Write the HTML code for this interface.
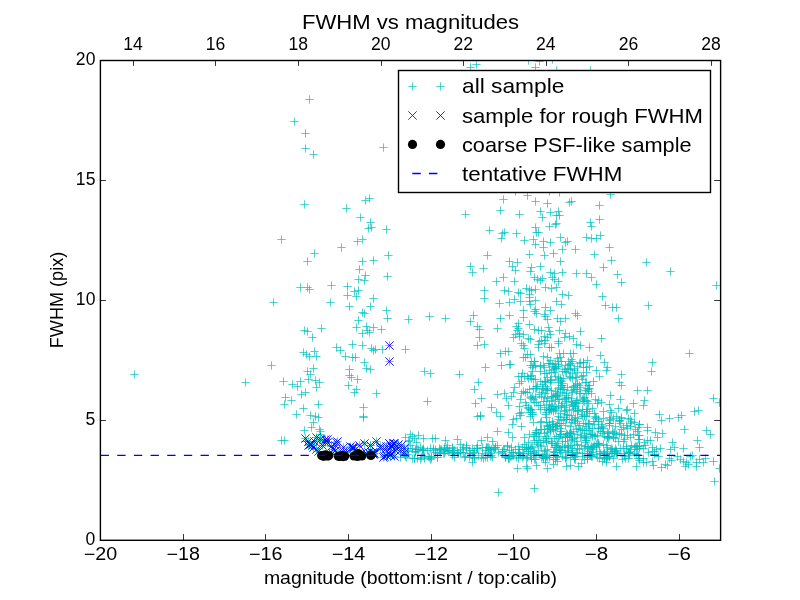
<!DOCTYPE html><html><head><meta charset="utf-8"><style>html,body{margin:0;padding:0;background:#fff;}svg{display:block;will-change:transform}</style></head><body>
<svg width="800" height="600" viewBox="0 0 800 600">
<defs><clipPath id="c"><rect x="100" y="60" width="621" height="481"/></clipPath><path id="p" d="M-4.17 0H4.17M0 -4.17V4.17" stroke="#00bfbf" stroke-width="0.69" fill="none"/><path id="x" d="M-4.17 -4.17L4.17 4.17M-4.17 4.17L4.17 -4.17" stroke="#0000ff" stroke-width="0.85" fill="none"/></defs>
<rect width="800" height="600" fill="#fff"/>
<g clip-path="url(#c)">
<use href="#p" x="309.5" y="99.5"/>
<use href="#p" x="294.5" y="121.5"/>
<use href="#p" x="305.5" y="133.5"/>
<use href="#p" x="305.5" y="148.5"/>
<use href="#p" x="313.5" y="154.5"/>
<use href="#p" x="383.5" y="147.5"/>
<use href="#p" x="134.5" y="374.5"/>
<use href="#p" x="245.5" y="382.5"/>
<use href="#p" x="304.5" y="204.5"/>
<use href="#p" x="346.5" y="208.5"/>
<use href="#p" x="365.5" y="200.5"/>
<use href="#p" x="369.5" y="198.5"/>
<use href="#p" x="360.5" y="217.5"/>
<use href="#p" x="370.5" y="222.5"/>
<use href="#p" x="368.5" y="228.5"/>
<use href="#p" x="371.5" y="227.5"/>
<use href="#p" x="386.5" y="229.5"/>
<use href="#p" x="281.5" y="239.5"/>
<use href="#p" x="357.5" y="241.5"/>
<use href="#p" x="362.5" y="239.5"/>
<use href="#p" x="341.5" y="247.5"/>
<use href="#p" x="314.5" y="253.5"/>
<use href="#p" x="307.5" y="261.5"/>
<use href="#p" x="362.5" y="261.5"/>
<use href="#p" x="373.5" y="260.5"/>
<use href="#p" x="388.5" y="255.5"/>
<use href="#p" x="359.5" y="269.5"/>
<use href="#p" x="365.5" y="275.5"/>
<use href="#p" x="358.5" y="279.5"/>
<use href="#p" x="364.5" y="280.5"/>
<use href="#p" x="387.5" y="276.5"/>
<use href="#p" x="300.5" y="287.5"/>
<use href="#p" x="307.5" y="287.5"/>
<use href="#p" x="309.5" y="289.5"/>
<use href="#p" x="331.5" y="285.5"/>
<use href="#p" x="347.5" y="286.5"/>
<use href="#p" x="354.5" y="291.5"/>
<use href="#p" x="358.5" y="290.5"/>
<use href="#p" x="347.5" y="295.5"/>
<use href="#p" x="356.5" y="296.5"/>
<use href="#p" x="373.5" y="298.5"/>
<use href="#p" x="273.5" y="302.5"/>
<use href="#p" x="330.5" y="302.5"/>
<use href="#p" x="349.5" y="306.5"/>
<use href="#p" x="370.5" y="306.5"/>
<use href="#p" x="386.5" y="310.5"/>
<use href="#p" x="362.5" y="312.5"/>
<use href="#p" x="364.5" y="313.5"/>
<use href="#p" x="387.5" y="318.5"/>
<use href="#p" x="408.5" y="319.5"/>
<use href="#p" x="358.5" y="320.5"/>
<use href="#p" x="356.5" y="327.5"/>
<use href="#p" x="366.5" y="326.5"/>
<use href="#p" x="373.5" y="327.5"/>
<use href="#p" x="381.5" y="329.5"/>
<use href="#p" x="367.5" y="330.5"/>
<use href="#p" x="369.5" y="332.5"/>
<use href="#p" x="362.5" y="333.5"/>
<use href="#p" x="304.5" y="330.5"/>
<use href="#p" x="307.5" y="331.5"/>
<use href="#p" x="321.5" y="328.5"/>
<use href="#p" x="312.5" y="337.5"/>
<use href="#p" x="336.5" y="347.5"/>
<use href="#p" x="340.5" y="350.5"/>
<use href="#p" x="352.5" y="344.5"/>
<use href="#p" x="362.5" y="345.5"/>
<use href="#p" x="371.5" y="348.5"/>
<use href="#p" x="373.5" y="350.5"/>
<use href="#p" x="375.5" y="349.5"/>
<use href="#p" x="382.5" y="349.5"/>
<use href="#p" x="405.5" y="349.5"/>
<use href="#p" x="303.5" y="352.5"/>
<use href="#p" x="306.5" y="354.5"/>
<use href="#p" x="314.5" y="351.5"/>
<use href="#p" x="309.5" y="356.5"/>
<use href="#p" x="316.5" y="356.5"/>
<use href="#p" x="345.5" y="356.5"/>
<use href="#p" x="352.5" y="357.5"/>
<use href="#p" x="355.5" y="357.5"/>
<use href="#p" x="364.5" y="362.5"/>
<use href="#p" x="366.5" y="368.5"/>
<use href="#p" x="370.5" y="369.5"/>
<use href="#p" x="271.5" y="365.5"/>
<use href="#p" x="313.5" y="368.5"/>
<use href="#p" x="307.5" y="371.5"/>
<use href="#p" x="310.5" y="374.5"/>
<use href="#p" x="349.5" y="369.5"/>
<use href="#p" x="349.5" y="375.5"/>
<use href="#p" x="351.5" y="377.5"/>
<use href="#p" x="357.5" y="379.5"/>
<use href="#p" x="283.5" y="381.5"/>
<use href="#p" x="292.5" y="384.5"/>
<use href="#p" x="300.5" y="381.5"/>
<use href="#p" x="297.5" y="386.5"/>
<use href="#p" x="308.5" y="379.5"/>
<use href="#p" x="315.5" y="380.5"/>
<use href="#p" x="319.5" y="382.5"/>
<use href="#p" x="316.5" y="387.5"/>
<use href="#p" x="348.5" y="385.5"/>
<use href="#p" x="356.5" y="389.5"/>
<use href="#p" x="354.5" y="392.5"/>
<use href="#p" x="305.5" y="392.5"/>
<use href="#p" x="301.5" y="394.5"/>
<use href="#p" x="376.5" y="393.5"/>
<use href="#p" x="285.5" y="397.5"/>
<use href="#p" x="291.5" y="400.5"/>
<use href="#p" x="284.5" y="404.5"/>
<use href="#p" x="318.5" y="404.5"/>
<use href="#p" x="303.5" y="408.5"/>
<use href="#p" x="363.5" y="407.5"/>
<use href="#p" x="296.5" y="414.5"/>
<use href="#p" x="310.5" y="415.5"/>
<use href="#p" x="315.5" y="416.5"/>
<use href="#p" x="318.5" y="417.5"/>
<use href="#p" x="363.5" y="416.5"/>
<use href="#p" x="470.5" y="67.5"/>
<use href="#p" x="476.5" y="64.5"/>
<use href="#p" x="535.5" y="67.5"/>
<use href="#p" x="539.5" y="61.5"/>
<use href="#p" x="528.5" y="60.5"/>
<use href="#p" x="552.5" y="59.5"/>
<use href="#p" x="556.5" y="70.5"/>
<use href="#p" x="590.5" y="70.5"/>
<use href="#p" x="503.5" y="199.5"/>
<use href="#p" x="527.5" y="195.5"/>
<use href="#p" x="535.5" y="201.5"/>
<use href="#p" x="547.5" y="203.5"/>
<use href="#p" x="569.5" y="202.5"/>
<use href="#p" x="571.5" y="201.5"/>
<use href="#p" x="465.5" y="214.5"/>
<use href="#p" x="500.5" y="210.5"/>
<use href="#p" x="519.5" y="214.5"/>
<use href="#p" x="540.5" y="211.5"/>
<use href="#p" x="550.5" y="212.5"/>
<use href="#p" x="558.5" y="211.5"/>
<use href="#p" x="556.5" y="215.5"/>
<use href="#p" x="559.5" y="215.5"/>
<use href="#p" x="542.5" y="217.5"/>
<use href="#p" x="489.5" y="230.5"/>
<use href="#p" x="504.5" y="232.5"/>
<use href="#p" x="502.5" y="233.5"/>
<use href="#p" x="516.5" y="233.5"/>
<use href="#p" x="535.5" y="227.5"/>
<use href="#p" x="536.5" y="232.5"/>
<use href="#p" x="538.5" y="232.5"/>
<use href="#p" x="549.5" y="226.5"/>
<use href="#p" x="555.5" y="224.5"/>
<use href="#p" x="556.5" y="223.5"/>
<use href="#p" x="501.5" y="238.5"/>
<use href="#p" x="524.5" y="240.5"/>
<use href="#p" x="533.5" y="239.5"/>
<use href="#p" x="535.5" y="244.5"/>
<use href="#p" x="543.5" y="241.5"/>
<use href="#p" x="550.5" y="242.5"/>
<use href="#p" x="560.5" y="237.5"/>
<use href="#p" x="565.5" y="242.5"/>
<use href="#p" x="567.5" y="241.5"/>
<use href="#p" x="543.5" y="247.5"/>
<use href="#p" x="562.5" y="249.5"/>
<use href="#p" x="575.5" y="249.5"/>
<use href="#p" x="487.5" y="255.5"/>
<use href="#p" x="529.5" y="254.5"/>
<use href="#p" x="544.5" y="255.5"/>
<use href="#p" x="553.5" y="253.5"/>
<use href="#p" x="560.5" y="261.5"/>
<use href="#p" x="470.5" y="266.5"/>
<use href="#p" x="472.5" y="272.5"/>
<use href="#p" x="483.5" y="268.5"/>
<use href="#p" x="509.5" y="261.5"/>
<use href="#p" x="512.5" y="266.5"/>
<use href="#p" x="517.5" y="262.5"/>
<use href="#p" x="515.5" y="270.5"/>
<use href="#p" x="531.5" y="267.5"/>
<use href="#p" x="530.5" y="271.5"/>
<use href="#p" x="540.5" y="266.5"/>
<use href="#p" x="550.5" y="272.5"/>
<use href="#p" x="554.5" y="273.5"/>
<use href="#p" x="562.5" y="272.5"/>
<use href="#p" x="576.5" y="273.5"/>
<use href="#p" x="496.5" y="281.5"/>
<use href="#p" x="503.5" y="277.5"/>
<use href="#p" x="514.5" y="281.5"/>
<use href="#p" x="534.5" y="277.5"/>
<use href="#p" x="537.5" y="279.5"/>
<use href="#p" x="540.5" y="280.5"/>
<use href="#p" x="542.5" y="278.5"/>
<use href="#p" x="552.5" y="277.5"/>
<use href="#p" x="554.5" y="279.5"/>
<use href="#p" x="558.5" y="281.5"/>
<use href="#p" x="484.5" y="290.5"/>
<use href="#p" x="504.5" y="290.5"/>
<use href="#p" x="508.5" y="291.5"/>
<use href="#p" x="518.5" y="292.5"/>
<use href="#p" x="520.5" y="293.5"/>
<use href="#p" x="526.5" y="288.5"/>
<use href="#p" x="529.5" y="289.5"/>
<use href="#p" x="531.5" y="290.5"/>
<use href="#p" x="535.5" y="289.5"/>
<use href="#p" x="545.5" y="287.5"/>
<use href="#p" x="551.5" y="288.5"/>
<use href="#p" x="556.5" y="287.5"/>
<use href="#p" x="529.5" y="294.5"/>
<use href="#p" x="562.5" y="294.5"/>
<use href="#p" x="568.5" y="295.5"/>
<use href="#p" x="484.5" y="298.5"/>
<use href="#p" x="514.5" y="299.5"/>
<use href="#p" x="515.5" y="191.5"/>
<use href="#p" x="549.5" y="191.5"/>
<use href="#p" x="559.5" y="192.5"/>
<use href="#p" x="610.5" y="194.5"/>
<use href="#p" x="599.5" y="205.5"/>
<use href="#p" x="599.5" y="219.5"/>
<use href="#p" x="590.5" y="222.5"/>
<use href="#p" x="591.5" y="226.5"/>
<use href="#p" x="586.5" y="237.5"/>
<use href="#p" x="591.5" y="238.5"/>
<use href="#p" x="596.5" y="238.5"/>
<use href="#p" x="600.5" y="235.5"/>
<use href="#p" x="609.5" y="247.5"/>
<use href="#p" x="594.5" y="254.5"/>
<use href="#p" x="611.5" y="260.5"/>
<use href="#p" x="603.5" y="267.5"/>
<use href="#p" x="646.5" y="262.5"/>
<use href="#p" x="670.5" y="271.5"/>
<use href="#p" x="586.5" y="273.5"/>
<use href="#p" x="591.5" y="277.5"/>
<use href="#p" x="617.5" y="274.5"/>
<use href="#p" x="621.5" y="282.5"/>
<use href="#p" x="596.5" y="284.5"/>
<use href="#p" x="602.5" y="296.5"/>
<use href="#p" x="716.5" y="285.5"/>
<use href="#p" x="429.5" y="316.5"/>
<use href="#p" x="445.5" y="318.5"/>
<use href="#p" x="473.5" y="315.5"/>
<use href="#p" x="470.5" y="321.5"/>
<use href="#p" x="477.5" y="326.5"/>
<use href="#p" x="479.5" y="329.5"/>
<use href="#p" x="479.5" y="337.5"/>
<use href="#p" x="477.5" y="345.5"/>
<use href="#p" x="484.5" y="344.5"/>
<use href="#p" x="497.5" y="328.5"/>
<use href="#p" x="500.5" y="318.5"/>
<use href="#p" x="509.5" y="315.5"/>
<use href="#p" x="499.5" y="303.5"/>
<use href="#p" x="509.5" y="302.5"/>
<use href="#p" x="500.5" y="353.5"/>
<use href="#p" x="505.5" y="351.5"/>
<use href="#p" x="485.5" y="367.5"/>
<use href="#p" x="501.5" y="365.5"/>
<use href="#p" x="509.5" y="364.5"/>
<use href="#p" x="424.5" y="371.5"/>
<use href="#p" x="430.5" y="373.5"/>
<use href="#p" x="459.5" y="374.5"/>
<use href="#p" x="478.5" y="382.5"/>
<use href="#p" x="474.5" y="389.5"/>
<use href="#p" x="481.5" y="398.5"/>
<use href="#p" x="475.5" y="403.5"/>
<use href="#p" x="497.5" y="394.5"/>
<use href="#p" x="504.5" y="393.5"/>
<use href="#p" x="506.5" y="398.5"/>
<use href="#p" x="508.5" y="405.5"/>
<use href="#p" x="491.5" y="407.5"/>
<use href="#p" x="496.5" y="412.5"/>
<use href="#p" x="500.5" y="416.5"/>
<use href="#p" x="477.5" y="416.5"/>
<use href="#p" x="480.5" y="415.5"/>
<use href="#p" x="427.5" y="401.5"/>
<use href="#p" x="520.5" y="301.5"/>
<use href="#p" x="529.5" y="301.5"/>
<use href="#p" x="535.5" y="300.5"/>
<use href="#p" x="530.5" y="304.5"/>
<use href="#p" x="556.5" y="301.5"/>
<use href="#p" x="561.5" y="304.5"/>
<use href="#p" x="523.5" y="310.5"/>
<use href="#p" x="534.5" y="311.5"/>
<use href="#p" x="536.5" y="313.5"/>
<use href="#p" x="545.5" y="307.5"/>
<use href="#p" x="550.5" y="310.5"/>
<use href="#p" x="523.5" y="317.5"/>
<use href="#p" x="545.5" y="316.5"/>
<use href="#p" x="547.5" y="319.5"/>
<use href="#p" x="557.5" y="318.5"/>
<use href="#p" x="560.5" y="321.5"/>
<use href="#p" x="565.5" y="318.5"/>
<use href="#p" x="575.5" y="313.5"/>
<use href="#p" x="577.5" y="315.5"/>
<use href="#p" x="518.5" y="323.5"/>
<use href="#p" x="529.5" y="324.5"/>
<use href="#p" x="580.5" y="331.5"/>
<use href="#p" x="569.5" y="336.5"/>
<use href="#p" x="573.5" y="338.5"/>
<use href="#p" x="576.5" y="344.5"/>
<use href="#p" x="580.5" y="345.5"/>
<use href="#p" x="589.5" y="347.5"/>
<use href="#p" x="570.5" y="353.5"/>
<use href="#p" x="573.5" y="353.5"/>
<use href="#p" x="605.5" y="305.5"/>
<use href="#p" x="612.5" y="307.5"/>
<use href="#p" x="616.5" y="307.5"/>
<use href="#p" x="618.5" y="318.5"/>
<use href="#p" x="648.5" y="305.5"/>
<use href="#p" x="601.5" y="338.5"/>
<use href="#p" x="689.5" y="353.5"/>
<use href="#p" x="600.5" y="355.5"/>
<use href="#p" x="652.5" y="362.5"/>
<use href="#p" x="651.5" y="371.5"/>
<use href="#p" x="621.5" y="374.5"/>
<use href="#p" x="619.5" y="382.5"/>
<use href="#p" x="621.5" y="385.5"/>
<use href="#p" x="637.5" y="390.5"/>
<use href="#p" x="647.5" y="390.5"/>
<use href="#p" x="620.5" y="399.5"/>
<use href="#p" x="633.5" y="403.5"/>
<use href="#p" x="644.5" y="400.5"/>
<use href="#p" x="643.5" y="405.5"/>
<use href="#p" x="627.5" y="409.5"/>
<use href="#p" x="634.5" y="413.5"/>
<use href="#p" x="659.5" y="414.5"/>
<use href="#p" x="669.5" y="418.5"/>
<use href="#p" x="678.5" y="417.5"/>
<use href="#p" x="681.5" y="415.5"/>
<use href="#p" x="694.5" y="411.5"/>
<use href="#p" x="698.5" y="410.5"/>
<use href="#p" x="713.5" y="398.5"/>
<use href="#p" x="719.5" y="402.5"/>
<use href="#p" x="604.5" y="362.5"/>
<use href="#p" x="607.5" y="367.5"/>
<use href="#p" x="596.5" y="370.5"/>
<use href="#p" x="599.5" y="376.5"/>
<use href="#p" x="647.5" y="427.5"/>
<use href="#p" x="647.5" y="430.5"/>
<use href="#p" x="655.5" y="432.5"/>
<use href="#p" x="662.5" y="433.5"/>
<use href="#p" x="657.5" y="437.5"/>
<use href="#p" x="684.5" y="429.5"/>
<use href="#p" x="706.5" y="430.5"/>
<use href="#p" x="710.5" y="434.5"/>
<use href="#p" x="697.5" y="440.5"/>
<use href="#p" x="699.5" y="447.5"/>
<use href="#p" x="672.5" y="442.5"/>
<use href="#p" x="674.5" y="447.5"/>
<use href="#p" x="683.5" y="448.5"/>
<use href="#p" x="670.5" y="449.5"/>
<use href="#p" x="647.5" y="440.5"/>
<use href="#p" x="650.5" y="440.5"/>
<use href="#p" x="644.5" y="442.5"/>
<use href="#p" x="645.5" y="445.5"/>
<use href="#p" x="643.5" y="448.5"/>
<use href="#p" x="652.5" y="447.5"/>
<use href="#p" x="656.5" y="449.5"/>
<use href="#p" x="660.5" y="448.5"/>
<use href="#p" x="652.5" y="451.5"/>
<use href="#p" x="648.5" y="452.5"/>
<use href="#p" x="654.5" y="451.5"/>
<use href="#p" x="654.5" y="454.5"/>
<use href="#p" x="658.5" y="456.5"/>
<use href="#p" x="643.5" y="458.5"/>
<use href="#p" x="643.5" y="462.5"/>
<use href="#p" x="646.5" y="462.5"/>
<use href="#p" x="653.5" y="465.5"/>
<use href="#p" x="652.5" y="461.5"/>
<use href="#p" x="661.5" y="467.5"/>
<use href="#p" x="665.5" y="464.5"/>
<use href="#p" x="667.5" y="465.5"/>
<use href="#p" x="669.5" y="458.5"/>
<use href="#p" x="671.5" y="460.5"/>
<use href="#p" x="677.5" y="456.5"/>
<use href="#p" x="680.5" y="459.5"/>
<use href="#p" x="683.5" y="461.5"/>
<use href="#p" x="686.5" y="462.5"/>
<use href="#p" x="688.5" y="464.5"/>
<use href="#p" x="685.5" y="466.5"/>
<use href="#p" x="690.5" y="456.5"/>
<use href="#p" x="692.5" y="455.5"/>
<use href="#p" x="696.5" y="462.5"/>
<use href="#p" x="696.5" y="466.5"/>
<use href="#p" x="699.5" y="459.5"/>
<use href="#p" x="703.5" y="462.5"/>
<use href="#p" x="705.5" y="458.5"/>
<use href="#p" x="713.5" y="461.5"/>
<use href="#p" x="719.5" y="468.5"/>
<use href="#p" x="714.5" y="481.5"/>
<use href="#p" x="498.5" y="492.5"/>
<use href="#p" x="534.5" y="488.5"/>
<use href="#p" x="593.5" y="381.5"/>
<use href="#p" x="591.5" y="393.5"/>
<use href="#p" x="595.5" y="399.5"/>
<use href="#p" x="598.5" y="400.5"/>
<use href="#p" x="597.5" y="403.5"/>
<use href="#p" x="601.5" y="402.5"/>
<use href="#p" x="609.5" y="404.5"/>
<use href="#p" x="618.5" y="408.5"/>
<use href="#p" x="626.5" y="410.5"/>
<use href="#p" x="592.5" y="408.5"/>
<use href="#p" x="594.5" y="413.5"/>
<use href="#p" x="603.5" y="411.5"/>
<use href="#p" x="610.5" y="410.5"/>
<use href="#p" x="611.5" y="412.5"/>
<use href="#p" x="610.5" y="395.5"/>
<use href="#p" x="606.5" y="370.5"/>
<use href="#p" x="304.5" y="430.5"/>
<use href="#p" x="313.5" y="422.5"/>
<use href="#p" x="311.5" y="427.5"/>
<use href="#p" x="319.5" y="429.5"/>
<use href="#p" x="320.5" y="434.5"/>
<use href="#p" x="319.5" y="440.5"/>
<use href="#p" x="305.5" y="441.5"/>
<use href="#p" x="281.5" y="440.5"/>
<use href="#p" x="284.5" y="440.5"/>
<use href="#p" x="363.5" y="417.5"/>
<use href="#p" x="516.5" y="326.5"/>
<use href="#p" x="518.5" y="328.5"/>
<use href="#p" x="517.5" y="330.5"/>
<use href="#p" x="513.5" y="337.5"/>
<use href="#p" x="515.5" y="334.5"/>
<use href="#p" x="519.5" y="333.5"/>
<use href="#p" x="519.5" y="336.5"/>
<use href="#p" x="523.5" y="334.5"/>
<use href="#p" x="528.5" y="338.5"/>
<use href="#p" x="530.5" y="339.5"/>
<use href="#p" x="521.5" y="343.5"/>
<use href="#p" x="524.5" y="348.5"/>
<use href="#p" x="523.5" y="345.5"/>
<use href="#p" x="534.5" y="329.5"/>
<use href="#p" x="538.5" y="330.5"/>
<use href="#p" x="541.5" y="330.5"/>
<use href="#p" x="548.5" y="327.5"/>
<use href="#p" x="549.5" y="331.5"/>
<use href="#p" x="550.5" y="334.5"/>
<use href="#p" x="544.5" y="336.5"/>
<use href="#p" x="547.5" y="337.5"/>
<use href="#p" x="539.5" y="341.5"/>
<use href="#p" x="541.5" y="340.5"/>
<use href="#p" x="545.5" y="340.5"/>
<use href="#p" x="538.5" y="344.5"/>
<use href="#p" x="544.5" y="343.5"/>
<use href="#p" x="549.5" y="347.5"/>
<use href="#p" x="551.5" y="347.5"/>
<use href="#p" x="538.5" y="347.5"/>
<use href="#p" x="559.5" y="330.5"/>
<use href="#p" x="565.5" y="333.5"/>
<use href="#p" x="564.5" y="337.5"/>
<use href="#p" x="558.5" y="341.5"/>
<use href="#p" x="558.5" y="343.5"/>
<use href="#p" x="527.5" y="354.5"/>
<use href="#p" x="530.5" y="354.5"/>
<use href="#p" x="559.5" y="353.5"/>
<use href="#p" x="563.5" y="353.5"/>
<use href="#p" x="508.5" y="351.5"/>
<use href="#p" x="535.5" y="309.5"/>
<use href="#p" x="544.5" y="314.5"/>
<use href="#p" x="529.5" y="297.5"/>
<use href="#p" x="320.5" y="431.5"/>
<use href="#p" x="320.5" y="437.5"/>
<use href="#p" x="661.5" y="420.5"/>
<use href="#p" x="510.5" y="364.5"/>
<use href="#p" x="523.5" y="357.5"/>
<use href="#p" x="525.5" y="357.5"/>
<use href="#p" x="534.5" y="361.5"/>
<use href="#p" x="531.5" y="361.5"/>
<use href="#p" x="533.5" y="365.5"/>
<use href="#p" x="530.5" y="365.5"/>
<use href="#p" x="534.5" y="361.5"/>
<use href="#p" x="547.5" y="357.5"/>
<use href="#p" x="543.5" y="356.5"/>
<use href="#p" x="543.5" y="365.5"/>
<use href="#p" x="549.5" y="363.5"/>
<use href="#p" x="540.5" y="365.5"/>
<use href="#p" x="548.5" y="363.5"/>
<use href="#p" x="550.5" y="360.5"/>
<use href="#p" x="558.5" y="361.5"/>
<use href="#p" x="557.5" y="358.5"/>
<use href="#p" x="555.5" y="363.5"/>
<use href="#p" x="558.5" y="364.5"/>
<use href="#p" x="552.5" y="364.5"/>
<use href="#p" x="568.5" y="361.5"/>
<use href="#p" x="561.5" y="361.5"/>
<use href="#p" x="565.5" y="365.5"/>
<use href="#p" x="560.5" y="357.5"/>
<use href="#p" x="569.5" y="364.5"/>
<use href="#p" x="572.5" y="361.5"/>
<use href="#p" x="571.5" y="359.5"/>
<use href="#p" x="570.5" y="363.5"/>
<use href="#p" x="570.5" y="365.5"/>
<use href="#p" x="579.5" y="363.5"/>
<use href="#p" x="583.5" y="362.5"/>
<use href="#p" x="587.5" y="360.5"/>
<use href="#p" x="580.5" y="362.5"/>
<use href="#p" x="583.5" y="362.5"/>
<use href="#p" x="522.5" y="373.5"/>
<use href="#p" x="535.5" y="366.5"/>
<use href="#p" x="531.5" y="375.5"/>
<use href="#p" x="532.5" y="367.5"/>
<use href="#p" x="532.5" y="371.5"/>
<use href="#p" x="540.5" y="366.5"/>
<use href="#p" x="544.5" y="367.5"/>
<use href="#p" x="546.5" y="373.5"/>
<use href="#p" x="540.5" y="371.5"/>
<use href="#p" x="544.5" y="373.5"/>
<use href="#p" x="549.5" y="370.5"/>
<use href="#p" x="558.5" y="366.5"/>
<use href="#p" x="553.5" y="369.5"/>
<use href="#p" x="551.5" y="372.5"/>
<use href="#p" x="555.5" y="368.5"/>
<use href="#p" x="554.5" y="372.5"/>
<use href="#p" x="553.5" y="366.5"/>
<use href="#p" x="554.5" y="367.5"/>
<use href="#p" x="556.5" y="368.5"/>
<use href="#p" x="568.5" y="369.5"/>
<use href="#p" x="562.5" y="371.5"/>
<use href="#p" x="566.5" y="372.5"/>
<use href="#p" x="567.5" y="368.5"/>
<use href="#p" x="564.5" y="369.5"/>
<use href="#p" x="565.5" y="371.5"/>
<use href="#p" x="570.5" y="369.5"/>
<use href="#p" x="577.5" y="366.5"/>
<use href="#p" x="577.5" y="372.5"/>
<use href="#p" x="574.5" y="370.5"/>
<use href="#p" x="572.5" y="373.5"/>
<use href="#p" x="574.5" y="368.5"/>
<use href="#p" x="583.5" y="375.5"/>
<use href="#p" x="586.5" y="372.5"/>
<use href="#p" x="589.5" y="366.5"/>
<use href="#p" x="586.5" y="367.5"/>
<use href="#p" x="583.5" y="367.5"/>
<use href="#p" x="519.5" y="383.5"/>
<use href="#p" x="518.5" y="376.5"/>
<use href="#p" x="527.5" y="376.5"/>
<use href="#p" x="521.5" y="376.5"/>
<use href="#p" x="528.5" y="378.5"/>
<use href="#p" x="524.5" y="376.5"/>
<use href="#p" x="521.5" y="381.5"/>
<use href="#p" x="533.5" y="379.5"/>
<use href="#p" x="530.5" y="376.5"/>
<use href="#p" x="531.5" y="378.5"/>
<use href="#p" x="535.5" y="379.5"/>
<use href="#p" x="542.5" y="384.5"/>
<use href="#p" x="540.5" y="381.5"/>
<use href="#p" x="545.5" y="382.5"/>
<use href="#p" x="544.5" y="381.5"/>
<use href="#p" x="547.5" y="377.5"/>
<use href="#p" x="545.5" y="381.5"/>
<use href="#p" x="551.5" y="380.5"/>
<use href="#p" x="550.5" y="382.5"/>
<use href="#p" x="558.5" y="379.5"/>
<use href="#p" x="558.5" y="382.5"/>
<use href="#p" x="550.5" y="380.5"/>
<use href="#p" x="550.5" y="379.5"/>
<use href="#p" x="558.5" y="377.5"/>
<use href="#p" x="555.5" y="376.5"/>
<use href="#p" x="569.5" y="376.5"/>
<use href="#p" x="561.5" y="385.5"/>
<use href="#p" x="563.5" y="378.5"/>
<use href="#p" x="560.5" y="380.5"/>
<use href="#p" x="560.5" y="378.5"/>
<use href="#p" x="562.5" y="383.5"/>
<use href="#p" x="561.5" y="381.5"/>
<use href="#p" x="562.5" y="385.5"/>
<use href="#p" x="579.5" y="385.5"/>
<use href="#p" x="575.5" y="385.5"/>
<use href="#p" x="576.5" y="377.5"/>
<use href="#p" x="577.5" y="384.5"/>
<use href="#p" x="570.5" y="377.5"/>
<use href="#p" x="577.5" y="383.5"/>
<use href="#p" x="575.5" y="377.5"/>
<use href="#p" x="572.5" y="378.5"/>
<use href="#p" x="582.5" y="379.5"/>
<use href="#p" x="586.5" y="382.5"/>
<use href="#p" x="585.5" y="382.5"/>
<use href="#p" x="588.5" y="385.5"/>
<use href="#p" x="581.5" y="376.5"/>
<use href="#p" x="589.5" y="385.5"/>
<use href="#p" x="513.5" y="392.5"/>
<use href="#p" x="514.5" y="387.5"/>
<use href="#p" x="523.5" y="391.5"/>
<use href="#p" x="521.5" y="393.5"/>
<use href="#p" x="529.5" y="389.5"/>
<use href="#p" x="525.5" y="392.5"/>
<use href="#p" x="527.5" y="392.5"/>
<use href="#p" x="537.5" y="386.5"/>
<use href="#p" x="539.5" y="394.5"/>
<use href="#p" x="536.5" y="388.5"/>
<use href="#p" x="536.5" y="386.5"/>
<use href="#p" x="533.5" y="388.5"/>
<use href="#p" x="535.5" y="388.5"/>
<use href="#p" x="547.5" y="388.5"/>
<use href="#p" x="545.5" y="386.5"/>
<use href="#p" x="545.5" y="393.5"/>
<use href="#p" x="547.5" y="389.5"/>
<use href="#p" x="541.5" y="392.5"/>
<use href="#p" x="543.5" y="388.5"/>
<use href="#p" x="542.5" y="389.5"/>
<use href="#p" x="546.5" y="390.5"/>
<use href="#p" x="557.5" y="394.5"/>
<use href="#p" x="555.5" y="395.5"/>
<use href="#p" x="555.5" y="391.5"/>
<use href="#p" x="556.5" y="395.5"/>
<use href="#p" x="557.5" y="395.5"/>
<use href="#p" x="551.5" y="390.5"/>
<use href="#p" x="557.5" y="393.5"/>
<use href="#p" x="558.5" y="388.5"/>
<use href="#p" x="564.5" y="389.5"/>
<use href="#p" x="560.5" y="389.5"/>
<use href="#p" x="566.5" y="393.5"/>
<use href="#p" x="562.5" y="392.5"/>
<use href="#p" x="567.5" y="387.5"/>
<use href="#p" x="560.5" y="387.5"/>
<use href="#p" x="566.5" y="395.5"/>
<use href="#p" x="563.5" y="389.5"/>
<use href="#p" x="573.5" y="386.5"/>
<use href="#p" x="572.5" y="392.5"/>
<use href="#p" x="574.5" y="389.5"/>
<use href="#p" x="573.5" y="387.5"/>
<use href="#p" x="577.5" y="389.5"/>
<use href="#p" x="576.5" y="391.5"/>
<use href="#p" x="579.5" y="393.5"/>
<use href="#p" x="571.5" y="390.5"/>
<use href="#p" x="587.5" y="388.5"/>
<use href="#p" x="589.5" y="388.5"/>
<use href="#p" x="585.5" y="390.5"/>
<use href="#p" x="588.5" y="391.5"/>
<use href="#p" x="588.5" y="389.5"/>
<use href="#p" x="580.5" y="387.5"/>
<use href="#p" x="580.5" y="393.5"/>
<use href="#p" x="586.5" y="393.5"/>
<use href="#p" x="511.5" y="396.5"/>
<use href="#p" x="520.5" y="399.5"/>
<use href="#p" x="525.5" y="402.5"/>
<use href="#p" x="526.5" y="405.5"/>
<use href="#p" x="533.5" y="399.5"/>
<use href="#p" x="530.5" y="397.5"/>
<use href="#p" x="534.5" y="402.5"/>
<use href="#p" x="532.5" y="396.5"/>
<use href="#p" x="536.5" y="402.5"/>
<use href="#p" x="535.5" y="397.5"/>
<use href="#p" x="531.5" y="398.5"/>
<use href="#p" x="538.5" y="405.5"/>
<use href="#p" x="549.5" y="405.5"/>
<use href="#p" x="547.5" y="398.5"/>
<use href="#p" x="549.5" y="404.5"/>
<use href="#p" x="541.5" y="396.5"/>
<use href="#p" x="543.5" y="401.5"/>
<use href="#p" x="540.5" y="405.5"/>
<use href="#p" x="546.5" y="401.5"/>
<use href="#p" x="544.5" y="397.5"/>
<use href="#p" x="557.5" y="396.5"/>
<use href="#p" x="558.5" y="399.5"/>
<use href="#p" x="559.5" y="399.5"/>
<use href="#p" x="552.5" y="397.5"/>
<use href="#p" x="553.5" y="396.5"/>
<use href="#p" x="551.5" y="400.5"/>
<use href="#p" x="555.5" y="401.5"/>
<use href="#p" x="551.5" y="396.5"/>
<use href="#p" x="568.5" y="397.5"/>
<use href="#p" x="566.5" y="401.5"/>
<use href="#p" x="566.5" y="405.5"/>
<use href="#p" x="562.5" y="403.5"/>
<use href="#p" x="565.5" y="399.5"/>
<use href="#p" x="564.5" y="398.5"/>
<use href="#p" x="561.5" y="405.5"/>
<use href="#p" x="566.5" y="397.5"/>
<use href="#p" x="571.5" y="402.5"/>
<use href="#p" x="575.5" y="403.5"/>
<use href="#p" x="574.5" y="405.5"/>
<use href="#p" x="577.5" y="400.5"/>
<use href="#p" x="571.5" y="398.5"/>
<use href="#p" x="571.5" y="401.5"/>
<use href="#p" x="578.5" y="403.5"/>
<use href="#p" x="576.5" y="400.5"/>
<use href="#p" x="572.5" y="404.5"/>
<use href="#p" x="576.5" y="402.5"/>
<use href="#p" x="587.5" y="401.5"/>
<use href="#p" x="582.5" y="399.5"/>
<use href="#p" x="583.5" y="398.5"/>
<use href="#p" x="588.5" y="403.5"/>
<use href="#p" x="586.5" y="400.5"/>
<use href="#p" x="584.5" y="397.5"/>
<use href="#p" x="584.5" y="401.5"/>
<use href="#p" x="583.5" y="401.5"/>
<use href="#p" x="519.5" y="406.5"/>
<use href="#p" x="519.5" y="413.5"/>
<use href="#p" x="528.5" y="408.5"/>
<use href="#p" x="521.5" y="412.5"/>
<use href="#p" x="528.5" y="407.5"/>
<use href="#p" x="520.5" y="415.5"/>
<use href="#p" x="532.5" y="414.5"/>
<use href="#p" x="532.5" y="414.5"/>
<use href="#p" x="530.5" y="412.5"/>
<use href="#p" x="532.5" y="412.5"/>
<use href="#p" x="530.5" y="412.5"/>
<use href="#p" x="530.5" y="410.5"/>
<use href="#p" x="530.5" y="409.5"/>
<use href="#p" x="531.5" y="409.5"/>
<use href="#p" x="546.5" y="412.5"/>
<use href="#p" x="545.5" y="414.5"/>
<use href="#p" x="544.5" y="407.5"/>
<use href="#p" x="546.5" y="409.5"/>
<use href="#p" x="549.5" y="409.5"/>
<use href="#p" x="540.5" y="409.5"/>
<use href="#p" x="549.5" y="410.5"/>
<use href="#p" x="548.5" y="409.5"/>
<use href="#p" x="550.5" y="408.5"/>
<use href="#p" x="551.5" y="410.5"/>
<use href="#p" x="553.5" y="411.5"/>
<use href="#p" x="556.5" y="408.5"/>
<use href="#p" x="552.5" y="406.5"/>
<use href="#p" x="551.5" y="409.5"/>
<use href="#p" x="558.5" y="407.5"/>
<use href="#p" x="554.5" y="406.5"/>
<use href="#p" x="555.5" y="410.5"/>
<use href="#p" x="553.5" y="409.5"/>
<use href="#p" x="564.5" y="407.5"/>
<use href="#p" x="567.5" y="415.5"/>
<use href="#p" x="569.5" y="409.5"/>
<use href="#p" x="560.5" y="413.5"/>
<use href="#p" x="564.5" y="411.5"/>
<use href="#p" x="566.5" y="414.5"/>
<use href="#p" x="565.5" y="410.5"/>
<use href="#p" x="561.5" y="406.5"/>
<use href="#p" x="571.5" y="415.5"/>
<use href="#p" x="575.5" y="406.5"/>
<use href="#p" x="573.5" y="410.5"/>
<use href="#p" x="578.5" y="410.5"/>
<use href="#p" x="575.5" y="408.5"/>
<use href="#p" x="573.5" y="406.5"/>
<use href="#p" x="577.5" y="410.5"/>
<use href="#p" x="577.5" y="411.5"/>
<use href="#p" x="582.5" y="409.5"/>
<use href="#p" x="587.5" y="409.5"/>
<use href="#p" x="589.5" y="413.5"/>
<use href="#p" x="586.5" y="411.5"/>
<use href="#p" x="586.5" y="409.5"/>
<use href="#p" x="581.5" y="414.5"/>
<use href="#p" x="584.5" y="415.5"/>
<use href="#p" x="587.5" y="411.5"/>
<use href="#p" x="516.5" y="418.5"/>
<use href="#p" x="513.5" y="419.5"/>
<use href="#p" x="530.5" y="416.5"/>
<use href="#p" x="533.5" y="422.5"/>
<use href="#p" x="547.5" y="425.5"/>
<use href="#p" x="546.5" y="422.5"/>
<use href="#p" x="541.5" y="421.5"/>
<use href="#p" x="546.5" y="417.5"/>
<use href="#p" x="540.5" y="422.5"/>
<use href="#p" x="549.5" y="422.5"/>
<use href="#p" x="558.5" y="419.5"/>
<use href="#p" x="553.5" y="424.5"/>
<use href="#p" x="557.5" y="425.5"/>
<use href="#p" x="558.5" y="416.5"/>
<use href="#p" x="552.5" y="421.5"/>
<use href="#p" x="552.5" y="424.5"/>
<use href="#p" x="557.5" y="423.5"/>
<use href="#p" x="559.5" y="423.5"/>
<use href="#p" x="564.5" y="417.5"/>
<use href="#p" x="565.5" y="425.5"/>
<use href="#p" x="566.5" y="419.5"/>
<use href="#p" x="560.5" y="417.5"/>
<use href="#p" x="561.5" y="423.5"/>
<use href="#p" x="563.5" y="420.5"/>
<use href="#p" x="569.5" y="419.5"/>
<use href="#p" x="566.5" y="419.5"/>
<use href="#p" x="574.5" y="420.5"/>
<use href="#p" x="571.5" y="422.5"/>
<use href="#p" x="575.5" y="417.5"/>
<use href="#p" x="579.5" y="425.5"/>
<use href="#p" x="572.5" y="419.5"/>
<use href="#p" x="577.5" y="421.5"/>
<use href="#p" x="575.5" y="423.5"/>
<use href="#p" x="577.5" y="418.5"/>
<use href="#p" x="588.5" y="424.5"/>
<use href="#p" x="588.5" y="423.5"/>
<use href="#p" x="586.5" y="416.5"/>
<use href="#p" x="583.5" y="423.5"/>
<use href="#p" x="582.5" y="416.5"/>
<use href="#p" x="585.5" y="423.5"/>
<use href="#p" x="589.5" y="423.5"/>
<use href="#p" x="584.5" y="416.5"/>
<use href="#p" x="598.5" y="421.5"/>
<use href="#p" x="595.5" y="416.5"/>
<use href="#p" x="593.5" y="421.5"/>
<use href="#p" x="598.5" y="419.5"/>
<use href="#p" x="598.5" y="421.5"/>
<use href="#p" x="595.5" y="418.5"/>
<use href="#p" x="596.5" y="417.5"/>
<use href="#p" x="594.5" y="424.5"/>
<use href="#p" x="609.5" y="417.5"/>
<use href="#p" x="609.5" y="420.5"/>
<use href="#p" x="601.5" y="424.5"/>
<use href="#p" x="609.5" y="425.5"/>
<use href="#p" x="603.5" y="418.5"/>
<use href="#p" x="609.5" y="423.5"/>
<use href="#p" x="609.5" y="423.5"/>
<use href="#p" x="609.5" y="423.5"/>
<use href="#p" x="619.5" y="420.5"/>
<use href="#p" x="619.5" y="420.5"/>
<use href="#p" x="619.5" y="421.5"/>
<use href="#p" x="616.5" y="416.5"/>
<use href="#p" x="613.5" y="418.5"/>
<use href="#p" x="610.5" y="419.5"/>
<use href="#p" x="621.5" y="418.5"/>
<use href="#p" x="628.5" y="418.5"/>
<use href="#p" x="626.5" y="425.5"/>
<use href="#p" x="620.5" y="423.5"/>
<use href="#p" x="621.5" y="417.5"/>
<use href="#p" x="639.5" y="424.5"/>
<use href="#p" x="630.5" y="423.5"/>
<use href="#p" x="630.5" y="419.5"/>
<use href="#p" x="639.5" y="424.5"/>
<use href="#p" x="631.5" y="421.5"/>
<use href="#p" x="634.5" y="422.5"/>
<use href="#p" x="529.5" y="434.5"/>
<use href="#p" x="521.5" y="426.5"/>
<use href="#p" x="535.5" y="432.5"/>
<use href="#p" x="538.5" y="433.5"/>
<use href="#p" x="536.5" y="432.5"/>
<use href="#p" x="536.5" y="430.5"/>
<use href="#p" x="536.5" y="434.5"/>
<use href="#p" x="547.5" y="432.5"/>
<use href="#p" x="540.5" y="429.5"/>
<use href="#p" x="544.5" y="429.5"/>
<use href="#p" x="541.5" y="429.5"/>
<use href="#p" x="548.5" y="428.5"/>
<use href="#p" x="549.5" y="426.5"/>
<use href="#p" x="544.5" y="433.5"/>
<use href="#p" x="547.5" y="426.5"/>
<use href="#p" x="550.5" y="431.5"/>
<use href="#p" x="550.5" y="429.5"/>
<use href="#p" x="552.5" y="427.5"/>
<use href="#p" x="553.5" y="430.5"/>
<use href="#p" x="555.5" y="429.5"/>
<use href="#p" x="550.5" y="429.5"/>
<use href="#p" x="556.5" y="426.5"/>
<use href="#p" x="555.5" y="426.5"/>
<use href="#p" x="561.5" y="431.5"/>
<use href="#p" x="560.5" y="431.5"/>
<use href="#p" x="567.5" y="435.5"/>
<use href="#p" x="567.5" y="434.5"/>
<use href="#p" x="560.5" y="434.5"/>
<use href="#p" x="560.5" y="434.5"/>
<use href="#p" x="569.5" y="433.5"/>
<use href="#p" x="566.5" y="433.5"/>
<use href="#p" x="560.5" y="434.5"/>
<use href="#p" x="560.5" y="428.5"/>
<use href="#p" x="576.5" y="429.5"/>
<use href="#p" x="573.5" y="431.5"/>
<use href="#p" x="577.5" y="434.5"/>
<use href="#p" x="578.5" y="428.5"/>
<use href="#p" x="570.5" y="426.5"/>
<use href="#p" x="571.5" y="433.5"/>
<use href="#p" x="570.5" y="433.5"/>
<use href="#p" x="570.5" y="432.5"/>
<use href="#p" x="586.5" y="433.5"/>
<use href="#p" x="586.5" y="426.5"/>
<use href="#p" x="580.5" y="429.5"/>
<use href="#p" x="589.5" y="430.5"/>
<use href="#p" x="582.5" y="430.5"/>
<use href="#p" x="588.5" y="428.5"/>
<use href="#p" x="581.5" y="435.5"/>
<use href="#p" x="584.5" y="430.5"/>
<use href="#p" x="592.5" y="434.5"/>
<use href="#p" x="598.5" y="428.5"/>
<use href="#p" x="597.5" y="435.5"/>
<use href="#p" x="594.5" y="435.5"/>
<use href="#p" x="590.5" y="434.5"/>
<use href="#p" x="598.5" y="428.5"/>
<use href="#p" x="592.5" y="428.5"/>
<use href="#p" x="591.5" y="434.5"/>
<use href="#p" x="607.5" y="432.5"/>
<use href="#p" x="602.5" y="426.5"/>
<use href="#p" x="602.5" y="433.5"/>
<use href="#p" x="600.5" y="431.5"/>
<use href="#p" x="603.5" y="428.5"/>
<use href="#p" x="603.5" y="431.5"/>
<use href="#p" x="601.5" y="427.5"/>
<use href="#p" x="608.5" y="433.5"/>
<use href="#p" x="612.5" y="431.5"/>
<use href="#p" x="619.5" y="433.5"/>
<use href="#p" x="614.5" y="432.5"/>
<use href="#p" x="613.5" y="433.5"/>
<use href="#p" x="615.5" y="426.5"/>
<use href="#p" x="616.5" y="434.5"/>
<use href="#p" x="621.5" y="429.5"/>
<use href="#p" x="621.5" y="434.5"/>
<use href="#p" x="627.5" y="428.5"/>
<use href="#p" x="623.5" y="427.5"/>
<use href="#p" x="624.5" y="435.5"/>
<use href="#p" x="627.5" y="435.5"/>
<use href="#p" x="639.5" y="435.5"/>
<use href="#p" x="638.5" y="427.5"/>
<use href="#p" x="638.5" y="435.5"/>
<use href="#p" x="637.5" y="431.5"/>
<use href="#p" x="633.5" y="434.5"/>
<use href="#p" x="635.5" y="429.5"/>
<use href="#p" x="630.5" y="426.5"/>
<use href="#p" x="512.5" y="437.5"/>
<use href="#p" x="524.5" y="444.5"/>
<use href="#p" x="524.5" y="437.5"/>
<use href="#p" x="528.5" y="442.5"/>
<use href="#p" x="538.5" y="440.5"/>
<use href="#p" x="533.5" y="436.5"/>
<use href="#p" x="536.5" y="442.5"/>
<use href="#p" x="539.5" y="436.5"/>
<use href="#p" x="534.5" y="440.5"/>
<use href="#p" x="534.5" y="436.5"/>
<use href="#p" x="540.5" y="442.5"/>
<use href="#p" x="543.5" y="440.5"/>
<use href="#p" x="548.5" y="438.5"/>
<use href="#p" x="545.5" y="438.5"/>
<use href="#p" x="546.5" y="441.5"/>
<use href="#p" x="546.5" y="436.5"/>
<use href="#p" x="546.5" y="442.5"/>
<use href="#p" x="540.5" y="445.5"/>
<use href="#p" x="557.5" y="443.5"/>
<use href="#p" x="555.5" y="445.5"/>
<use href="#p" x="551.5" y="443.5"/>
<use href="#p" x="559.5" y="436.5"/>
<use href="#p" x="556.5" y="445.5"/>
<use href="#p" x="551.5" y="441.5"/>
<use href="#p" x="558.5" y="438.5"/>
<use href="#p" x="552.5" y="443.5"/>
<use href="#p" x="557.5" y="445.5"/>
<use href="#p" x="556.5" y="436.5"/>
<use href="#p" x="562.5" y="441.5"/>
<use href="#p" x="567.5" y="445.5"/>
<use href="#p" x="565.5" y="437.5"/>
<use href="#p" x="565.5" y="441.5"/>
<use href="#p" x="567.5" y="437.5"/>
<use href="#p" x="565.5" y="436.5"/>
<use href="#p" x="569.5" y="436.5"/>
<use href="#p" x="565.5" y="437.5"/>
<use href="#p" x="574.5" y="438.5"/>
<use href="#p" x="572.5" y="439.5"/>
<use href="#p" x="574.5" y="445.5"/>
<use href="#p" x="572.5" y="437.5"/>
<use href="#p" x="570.5" y="445.5"/>
<use href="#p" x="577.5" y="444.5"/>
<use href="#p" x="571.5" y="440.5"/>
<use href="#p" x="576.5" y="441.5"/>
<use href="#p" x="581.5" y="445.5"/>
<use href="#p" x="585.5" y="442.5"/>
<use href="#p" x="585.5" y="440.5"/>
<use href="#p" x="580.5" y="437.5"/>
<use href="#p" x="584.5" y="436.5"/>
<use href="#p" x="585.5" y="437.5"/>
<use href="#p" x="586.5" y="440.5"/>
<use href="#p" x="586.5" y="438.5"/>
<use href="#p" x="596.5" y="444.5"/>
<use href="#p" x="592.5" y="436.5"/>
<use href="#p" x="598.5" y="443.5"/>
<use href="#p" x="597.5" y="443.5"/>
<use href="#p" x="594.5" y="445.5"/>
<use href="#p" x="598.5" y="443.5"/>
<use href="#p" x="599.5" y="445.5"/>
<use href="#p" x="595.5" y="436.5"/>
<use href="#p" x="604.5" y="436.5"/>
<use href="#p" x="603.5" y="444.5"/>
<use href="#p" x="606.5" y="445.5"/>
<use href="#p" x="607.5" y="437.5"/>
<use href="#p" x="607.5" y="436.5"/>
<use href="#p" x="608.5" y="438.5"/>
<use href="#p" x="609.5" y="436.5"/>
<use href="#p" x="607.5" y="437.5"/>
<use href="#p" x="618.5" y="441.5"/>
<use href="#p" x="615.5" y="438.5"/>
<use href="#p" x="613.5" y="437.5"/>
<use href="#p" x="613.5" y="437.5"/>
<use href="#p" x="624.5" y="439.5"/>
<use href="#p" x="639.5" y="445.5"/>
<use href="#p" x="639.5" y="439.5"/>
<use href="#p" x="630.5" y="437.5"/>
<use href="#p" x="638.5" y="439.5"/>
<use href="#p" x="631.5" y="445.5"/>
<use href="#p" x="404.5" y="453.5"/>
<use href="#p" x="403.5" y="448.5"/>
<use href="#p" x="405.5" y="456.5"/>
<use href="#p" x="400.5" y="457.5"/>
<use href="#p" x="404.5" y="448.5"/>
<use href="#p" x="404.5" y="454.5"/>
<use href="#p" x="408.5" y="450.5"/>
<use href="#p" x="406.5" y="457.5"/>
<use href="#p" x="407.5" y="448.5"/>
<use href="#p" x="407.5" y="454.5"/>
<use href="#p" x="405.5" y="455.5"/>
<use href="#p" x="408.5" y="451.5"/>
<use href="#p" x="409.5" y="440.5"/>
<use href="#p" x="416.5" y="449.5"/>
<use href="#p" x="412.5" y="458.5"/>
<use href="#p" x="415.5" y="452.5"/>
<use href="#p" x="415.5" y="451.5"/>
<use href="#p" x="415.5" y="451.5"/>
<use href="#p" x="417.5" y="458.5"/>
<use href="#p" x="414.5" y="458.5"/>
<use href="#p" x="412.5" y="448.5"/>
<use href="#p" x="417.5" y="449.5"/>
<use href="#p" x="415.5" y="449.5"/>
<use href="#p" x="414.5" y="458.5"/>
<use href="#p" x="418.5" y="449.5"/>
<use href="#p" x="410.5" y="445.5"/>
<use href="#p" x="423.5" y="450.5"/>
<use href="#p" x="422.5" y="449.5"/>
<use href="#p" x="424.5" y="456.5"/>
<use href="#p" x="423.5" y="450.5"/>
<use href="#p" x="429.5" y="457.5"/>
<use href="#p" x="422.5" y="450.5"/>
<use href="#p" x="427.5" y="450.5"/>
<use href="#p" x="421.5" y="457.5"/>
<use href="#p" x="423.5" y="448.5"/>
<use href="#p" x="428.5" y="456.5"/>
<use href="#p" x="424.5" y="458.5"/>
<use href="#p" x="420.5" y="447.5"/>
<use href="#p" x="423.5" y="438.5"/>
<use href="#p" x="439.5" y="448.5"/>
<use href="#p" x="435.5" y="452.5"/>
<use href="#p" x="435.5" y="449.5"/>
<use href="#p" x="439.5" y="450.5"/>
<use href="#p" x="437.5" y="457.5"/>
<use href="#p" x="437.5" y="453.5"/>
<use href="#p" x="433.5" y="448.5"/>
<use href="#p" x="437.5" y="457.5"/>
<use href="#p" x="433.5" y="450.5"/>
<use href="#p" x="430.5" y="448.5"/>
<use href="#p" x="431.5" y="458.5"/>
<use href="#p" x="431.5" y="456.5"/>
<use href="#p" x="435.5" y="438.5"/>
<use href="#p" x="432.5" y="438.5"/>
<use href="#p" x="448.5" y="451.5"/>
<use href="#p" x="444.5" y="449.5"/>
<use href="#p" x="445.5" y="451.5"/>
<use href="#p" x="440.5" y="449.5"/>
<use href="#p" x="449.5" y="450.5"/>
<use href="#p" x="444.5" y="453.5"/>
<use href="#p" x="447.5" y="450.5"/>
<use href="#p" x="446.5" y="448.5"/>
<use href="#p" x="440.5" y="452.5"/>
<use href="#p" x="443.5" y="453.5"/>
<use href="#p" x="444.5" y="447.5"/>
<use href="#p" x="441.5" y="449.5"/>
<use href="#p" x="445.5" y="440.5"/>
<use href="#p" x="447.5" y="445.5"/>
<use href="#p" x="458.5" y="453.5"/>
<use href="#p" x="454.5" y="450.5"/>
<use href="#p" x="453.5" y="452.5"/>
<use href="#p" x="457.5" y="453.5"/>
<use href="#p" x="454.5" y="457.5"/>
<use href="#p" x="457.5" y="450.5"/>
<use href="#p" x="452.5" y="455.5"/>
<use href="#p" x="452.5" y="452.5"/>
<use href="#p" x="452.5" y="453.5"/>
<use href="#p" x="452.5" y="447.5"/>
<use href="#p" x="452.5" y="448.5"/>
<use href="#p" x="453.5" y="450.5"/>
<use href="#p" x="457.5" y="439.5"/>
<use href="#p" x="460.5" y="452.5"/>
<use href="#p" x="460.5" y="452.5"/>
<use href="#p" x="469.5" y="450.5"/>
<use href="#p" x="469.5" y="453.5"/>
<use href="#p" x="463.5" y="452.5"/>
<use href="#p" x="462.5" y="449.5"/>
<use href="#p" x="465.5" y="456.5"/>
<use href="#p" x="464.5" y="457.5"/>
<use href="#p" x="469.5" y="457.5"/>
<use href="#p" x="466.5" y="447.5"/>
<use href="#p" x="463.5" y="447.5"/>
<use href="#p" x="466.5" y="448.5"/>
<use href="#p" x="460.5" y="444.5"/>
<use href="#p" x="466.5" y="445.5"/>
<use href="#p" x="478.5" y="455.5"/>
<use href="#p" x="474.5" y="450.5"/>
<use href="#p" x="473.5" y="453.5"/>
<use href="#p" x="474.5" y="452.5"/>
<use href="#p" x="470.5" y="453.5"/>
<use href="#p" x="477.5" y="448.5"/>
<use href="#p" x="472.5" y="457.5"/>
<use href="#p" x="472.5" y="448.5"/>
<use href="#p" x="474.5" y="457.5"/>
<use href="#p" x="474.5" y="458.5"/>
<use href="#p" x="477.5" y="448.5"/>
<use href="#p" x="476.5" y="448.5"/>
<use href="#p" x="477.5" y="445.5"/>
<use href="#p" x="482.5" y="447.5"/>
<use href="#p" x="487.5" y="457.5"/>
<use href="#p" x="482.5" y="453.5"/>
<use href="#p" x="488.5" y="452.5"/>
<use href="#p" x="489.5" y="448.5"/>
<use href="#p" x="487.5" y="447.5"/>
<use href="#p" x="488.5" y="447.5"/>
<use href="#p" x="485.5" y="450.5"/>
<use href="#p" x="486.5" y="447.5"/>
<use href="#p" x="483.5" y="458.5"/>
<use href="#p" x="481.5" y="457.5"/>
<use href="#p" x="486.5" y="447.5"/>
<use href="#p" x="487.5" y="437.5"/>
<use href="#p" x="481.5" y="440.5"/>
<use href="#p" x="491.5" y="449.5"/>
<use href="#p" x="493.5" y="448.5"/>
<use href="#p" x="495.5" y="447.5"/>
<use href="#p" x="495.5" y="447.5"/>
<use href="#p" x="490.5" y="450.5"/>
<use href="#p" x="495.5" y="447.5"/>
<use href="#p" x="491.5" y="455.5"/>
<use href="#p" x="490.5" y="453.5"/>
<use href="#p" x="498.5" y="452.5"/>
<use href="#p" x="494.5" y="449.5"/>
<use href="#p" x="492.5" y="457.5"/>
<use href="#p" x="490.5" y="456.5"/>
<use href="#p" x="497.5" y="445.5"/>
<use href="#p" x="492.5" y="441.5"/>
<use href="#p" x="503.5" y="449.5"/>
<use href="#p" x="505.5" y="457.5"/>
<use href="#p" x="505.5" y="457.5"/>
<use href="#p" x="505.5" y="455.5"/>
<use href="#p" x="504.5" y="449.5"/>
<use href="#p" x="502.5" y="451.5"/>
<use href="#p" x="509.5" y="450.5"/>
<use href="#p" x="509.5" y="458.5"/>
<use href="#p" x="502.5" y="453.5"/>
<use href="#p" x="502.5" y="451.5"/>
<use href="#p" x="508.5" y="458.5"/>
<use href="#p" x="505.5" y="456.5"/>
<use href="#p" x="507.5" y="445.5"/>
<use href="#p" x="507.5" y="446.5"/>
<use href="#p" x="516.5" y="457.5"/>
<use href="#p" x="518.5" y="453.5"/>
<use href="#p" x="518.5" y="452.5"/>
<use href="#p" x="519.5" y="449.5"/>
<use href="#p" x="511.5" y="456.5"/>
<use href="#p" x="512.5" y="455.5"/>
<use href="#p" x="511.5" y="447.5"/>
<use href="#p" x="519.5" y="452.5"/>
<use href="#p" x="515.5" y="449.5"/>
<use href="#p" x="511.5" y="452.5"/>
<use href="#p" x="513.5" y="455.5"/>
<use href="#p" x="518.5" y="446.5"/>
<use href="#p" x="510.5" y="456.5"/>
<use href="#p" x="513.5" y="452.5"/>
<use href="#p" x="520.5" y="455.5"/>
<use href="#p" x="526.5" y="458.5"/>
<use href="#p" x="528.5" y="451.5"/>
<use href="#p" x="523.5" y="456.5"/>
<use href="#p" x="526.5" y="447.5"/>
<use href="#p" x="528.5" y="451.5"/>
<use href="#p" x="528.5" y="448.5"/>
<use href="#p" x="522.5" y="457.5"/>
<use href="#p" x="526.5" y="449.5"/>
<use href="#p" x="524.5" y="449.5"/>
<use href="#p" x="523.5" y="453.5"/>
<use href="#p" x="522.5" y="447.5"/>
<use href="#p" x="527.5" y="457.5"/>
<use href="#p" x="526.5" y="447.5"/>
<use href="#p" x="535.5" y="459.5"/>
<use href="#p" x="534.5" y="452.5"/>
<use href="#p" x="536.5" y="454.5"/>
<use href="#p" x="531.5" y="459.5"/>
<use href="#p" x="538.5" y="450.5"/>
<use href="#p" x="533.5" y="455.5"/>
<use href="#p" x="530.5" y="453.5"/>
<use href="#p" x="530.5" y="448.5"/>
<use href="#p" x="531.5" y="457.5"/>
<use href="#p" x="533.5" y="451.5"/>
<use href="#p" x="530.5" y="455.5"/>
<use href="#p" x="531.5" y="446.5"/>
<use href="#p" x="533.5" y="453.5"/>
<use href="#p" x="532.5" y="447.5"/>
<use href="#p" x="537.5" y="444.5"/>
<use href="#p" x="541.5" y="457.5"/>
<use href="#p" x="544.5" y="451.5"/>
<use href="#p" x="541.5" y="446.5"/>
<use href="#p" x="546.5" y="456.5"/>
<use href="#p" x="549.5" y="457.5"/>
<use href="#p" x="543.5" y="458.5"/>
<use href="#p" x="546.5" y="455.5"/>
<use href="#p" x="547.5" y="449.5"/>
<use href="#p" x="545.5" y="458.5"/>
<use href="#p" x="542.5" y="456.5"/>
<use href="#p" x="543.5" y="457.5"/>
<use href="#p" x="545.5" y="450.5"/>
<use href="#p" x="544.5" y="454.5"/>
<use href="#p" x="547.5" y="457.5"/>
<use href="#p" x="553.5" y="451.5"/>
<use href="#p" x="553.5" y="459.5"/>
<use href="#p" x="558.5" y="447.5"/>
<use href="#p" x="553.5" y="455.5"/>
<use href="#p" x="556.5" y="457.5"/>
<use href="#p" x="555.5" y="452.5"/>
<use href="#p" x="555.5" y="459.5"/>
<use href="#p" x="554.5" y="447.5"/>
<use href="#p" x="559.5" y="450.5"/>
<use href="#p" x="554.5" y="452.5"/>
<use href="#p" x="557.5" y="456.5"/>
<use href="#p" x="556.5" y="447.5"/>
<use href="#p" x="555.5" y="459.5"/>
<use href="#p" x="559.5" y="449.5"/>
<use href="#p" x="554.5" y="438.5"/>
<use href="#p" x="568.5" y="451.5"/>
<use href="#p" x="564.5" y="447.5"/>
<use href="#p" x="561.5" y="450.5"/>
<use href="#p" x="566.5" y="457.5"/>
<use href="#p" x="565.5" y="450.5"/>
<use href="#p" x="560.5" y="452.5"/>
<use href="#p" x="560.5" y="450.5"/>
<use href="#p" x="568.5" y="447.5"/>
<use href="#p" x="562.5" y="456.5"/>
<use href="#p" x="568.5" y="446.5"/>
<use href="#p" x="562.5" y="446.5"/>
<use href="#p" x="565.5" y="457.5"/>
<use href="#p" x="567.5" y="452.5"/>
<use href="#p" x="565.5" y="458.5"/>
<use href="#p" x="576.5" y="453.5"/>
<use href="#p" x="574.5" y="457.5"/>
<use href="#p" x="572.5" y="454.5"/>
<use href="#p" x="575.5" y="456.5"/>
<use href="#p" x="575.5" y="459.5"/>
<use href="#p" x="577.5" y="448.5"/>
<use href="#p" x="571.5" y="452.5"/>
<use href="#p" x="574.5" y="459.5"/>
<use href="#p" x="572.5" y="448.5"/>
<use href="#p" x="579.5" y="449.5"/>
<use href="#p" x="570.5" y="457.5"/>
<use href="#p" x="573.5" y="455.5"/>
<use href="#p" x="577.5" y="452.5"/>
<use href="#p" x="572.5" y="450.5"/>
<use href="#p" x="587.5" y="457.5"/>
<use href="#p" x="587.5" y="459.5"/>
<use href="#p" x="582.5" y="456.5"/>
<use href="#p" x="589.5" y="455.5"/>
<use href="#p" x="587.5" y="453.5"/>
<use href="#p" x="584.5" y="448.5"/>
<use href="#p" x="587.5" y="453.5"/>
<use href="#p" x="582.5" y="453.5"/>
<use href="#p" x="584.5" y="459.5"/>
<use href="#p" x="588.5" y="447.5"/>
<use href="#p" x="589.5" y="451.5"/>
<use href="#p" x="587.5" y="446.5"/>
<use href="#p" x="587.5" y="455.5"/>
<use href="#p" x="585.5" y="446.5"/>
<use href="#p" x="596.5" y="447.5"/>
<use href="#p" x="599.5" y="451.5"/>
<use href="#p" x="593.5" y="449.5"/>
<use href="#p" x="591.5" y="455.5"/>
<use href="#p" x="590.5" y="448.5"/>
<use href="#p" x="597.5" y="457.5"/>
<use href="#p" x="592.5" y="447.5"/>
<use href="#p" x="590.5" y="455.5"/>
<use href="#p" x="591.5" y="446.5"/>
<use href="#p" x="592.5" y="456.5"/>
<use href="#p" x="591.5" y="456.5"/>
<use href="#p" x="596.5" y="454.5"/>
<use href="#p" x="591.5" y="454.5"/>
<use href="#p" x="592.5" y="452.5"/>
<use href="#p" x="593.5" y="446.5"/>
<use href="#p" x="607.5" y="451.5"/>
<use href="#p" x="607.5" y="447.5"/>
<use href="#p" x="606.5" y="458.5"/>
<use href="#p" x="604.5" y="458.5"/>
<use href="#p" x="609.5" y="456.5"/>
<use href="#p" x="604.5" y="452.5"/>
<use href="#p" x="606.5" y="459.5"/>
<use href="#p" x="603.5" y="453.5"/>
<use href="#p" x="609.5" y="456.5"/>
<use href="#p" x="604.5" y="453.5"/>
<use href="#p" x="600.5" y="453.5"/>
<use href="#p" x="607.5" y="457.5"/>
<use href="#p" x="606.5" y="454.5"/>
<use href="#p" x="604.5" y="457.5"/>
<use href="#p" x="616.5" y="453.5"/>
<use href="#p" x="611.5" y="453.5"/>
<use href="#p" x="610.5" y="449.5"/>
<use href="#p" x="615.5" y="451.5"/>
<use href="#p" x="616.5" y="450.5"/>
<use href="#p" x="614.5" y="451.5"/>
<use href="#p" x="615.5" y="448.5"/>
<use href="#p" x="612.5" y="449.5"/>
<use href="#p" x="616.5" y="452.5"/>
<use href="#p" x="612.5" y="453.5"/>
<use href="#p" x="617.5" y="453.5"/>
<use href="#p" x="611.5" y="448.5"/>
<use href="#p" x="613.5" y="458.5"/>
<use href="#p" x="614.5" y="453.5"/>
<use href="#p" x="626.5" y="448.5"/>
<use href="#p" x="629.5" y="455.5"/>
<use href="#p" x="628.5" y="452.5"/>
<use href="#p" x="629.5" y="453.5"/>
<use href="#p" x="623.5" y="448.5"/>
<use href="#p" x="624.5" y="456.5"/>
<use href="#p" x="628.5" y="453.5"/>
<use href="#p" x="620.5" y="448.5"/>
<use href="#p" x="626.5" y="446.5"/>
<use href="#p" x="622.5" y="459.5"/>
<use href="#p" x="624.5" y="453.5"/>
<use href="#p" x="628.5" y="452.5"/>
<use href="#p" x="625.5" y="458.5"/>
<use href="#p" x="629.5" y="452.5"/>
<use href="#p" x="623.5" y="441.5"/>
<use href="#p" x="637.5" y="449.5"/>
<use href="#p" x="630.5" y="451.5"/>
<use href="#p" x="638.5" y="455.5"/>
<use href="#p" x="639.5" y="458.5"/>
<use href="#p" x="639.5" y="446.5"/>
<use href="#p" x="638.5" y="458.5"/>
<use href="#p" x="636.5" y="446.5"/>
<use href="#p" x="639.5" y="448.5"/>
<use href="#p" x="630.5" y="449.5"/>
<use href="#p" x="636.5" y="454.5"/>
<use href="#p" x="634.5" y="453.5"/>
<use href="#p" x="637.5" y="446.5"/>
<use href="#p" x="635.5" y="446.5"/>
<use href="#p" x="634.5" y="447.5"/>
<use href="#p" x="518.5" y="458.5"/>
<use href="#p" x="517.5" y="468.5"/>
<use href="#p" x="526.5" y="466.5"/>
<use href="#p" x="527.5" y="468.5"/>
<use href="#p" x="536.5" y="465.5"/>
<use href="#p" x="534.5" y="459.5"/>
<use href="#p" x="545.5" y="462.5"/>
<use href="#p" x="547.5" y="468.5"/>
<use href="#p" x="553.5" y="464.5"/>
<use href="#p" x="557.5" y="461.5"/>
<use href="#p" x="566.5" y="466.5"/>
<use href="#p" x="570.5" y="465.5"/>
<use href="#p" x="578.5" y="466.5"/>
<use href="#p" x="581.5" y="463.5"/>
<use href="#p" x="599.5" y="458.5"/>
<use href="#p" x="602.5" y="461.5"/>
<use href="#p" x="606.5" y="462.5"/>
<use href="#p" x="616.5" y="466.5"/>
<use href="#p" x="628.5" y="458.5"/>
<use href="#p" x="636.5" y="466.5"/>
<use href="#p" x="639.5" y="460.5"/>
<use href="#p" x="420.5" y="459.5"/>
<use href="#p" x="430.5" y="459.5"/>
<use href="#p" x="472.5" y="462.5"/>
<use href="#p" x="485.5" y="457.5"/>
<use href="#p" x="508.5" y="458.5"/>
<use href="#p" x="497.5" y="431.5"/>
<use href="#p" x="508.5" y="432.5"/>
<use href="#p" x="512.5" y="424.5"/>
<use href="#p" x="480.5" y="416.5"/>
<use href="#p" x="405.5" y="437.5"/>
<use href="#p" x="410.5" y="434.5"/>
<use href="#p" x="414.5" y="438.5"/>
<use href="#p" x="418.5" y="435.5"/>
<use href="#p" x="408.5" y="441.5"/>
<use href="#p" x="416.5" y="442.5"/>
<use href="#p" x="412.5" y="436.5"/>
<use href="#p" x="389.5" y="345.5"/>
<use href="#p" x="389.5" y="361.5"/>
<use href="#p" x="308.5" y="441.5"/>
<use href="#p" x="309.5" y="444.5"/>
<use href="#p" x="308.5" y="445.5"/>
<use href="#p" x="305.5" y="438.5"/>
<use href="#p" x="310.5" y="444.5"/>
<use href="#p" x="314.5" y="441.5"/>
<use href="#p" x="312.5" y="445.5"/>
<use href="#p" x="318.5" y="451.5"/>
<use href="#p" x="313.5" y="447.5"/>
<use href="#p" x="316.5" y="449.5"/>
<use href="#p" x="316.5" y="437.5"/>
<use href="#p" x="327.5" y="442.5"/>
<use href="#p" x="325.5" y="439.5"/>
<use href="#p" x="325.5" y="442.5"/>
<use href="#p" x="320.5" y="439.5"/>
<use href="#p" x="322.5" y="445.5"/>
<use href="#p" x="327.5" y="439.5"/>
<use href="#p" x="333.5" y="449.5"/>
<use href="#p" x="337.5" y="441.5"/>
<use href="#p" x="332.5" y="453.5"/>
<use href="#p" x="336.5" y="442.5"/>
<use href="#p" x="335.5" y="445.5"/>
<use href="#p" x="331.5" y="446.5"/>
<use href="#p" x="335.5" y="450.5"/>
<use href="#p" x="342.5" y="456.5"/>
<use href="#p" x="343.5" y="451.5"/>
<use href="#p" x="343.5" y="447.5"/>
<use href="#p" x="346.5" y="452.5"/>
<use href="#p" x="350.5" y="446.5"/>
<use href="#p" x="353.5" y="448.5"/>
<use href="#p" x="359.5" y="445.5"/>
<use href="#p" x="352.5" y="447.5"/>
<use href="#p" x="353.5" y="447.5"/>
<use href="#p" x="361.5" y="453.5"/>
<use href="#p" x="366.5" y="453.5"/>
<use href="#p" x="364.5" y="443.5"/>
<use href="#p" x="367.5" y="454.5"/>
<use href="#p" x="368.5" y="452.5"/>
<use href="#p" x="372.5" y="452.5"/>
<use href="#p" x="370.5" y="445.5"/>
<use href="#p" x="373.5" y="454.5"/>
<use href="#p" x="370.5" y="445.5"/>
<use href="#p" x="376.5" y="441.5"/>
<use href="#p" x="373.5" y="453.5"/>
<use href="#p" x="374.5" y="453.5"/>
<use href="#p" x="372.5" y="453.5"/>
<use href="#p" x="386.5" y="455.5"/>
<use href="#p" x="380.5" y="446.5"/>
<use href="#p" x="383.5" y="457.5"/>
<use href="#p" x="380.5" y="448.5"/>
<use href="#p" x="389.5" y="443.5"/>
<use href="#p" x="389.5" y="443.5"/>
<use href="#p" x="385.5" y="449.5"/>
<use href="#p" x="386.5" y="446.5"/>
<use href="#p" x="384.5" y="456.5"/>
<use href="#p" x="398.5" y="444.5"/>
<use href="#p" x="391.5" y="446.5"/>
<use href="#p" x="395.5" y="447.5"/>
<use href="#p" x="394.5" y="443.5"/>
<use href="#p" x="393.5" y="443.5"/>
<use href="#p" x="391.5" y="453.5"/>
<use href="#p" x="395.5" y="450.5"/>
<use href="#p" x="390.5" y="455.5"/>
<use href="#p" x="390.5" y="454.5"/>
<use href="#p" x="394.5" y="456.5"/>
<use href="#p" x="390.5" y="448.5"/>
<use href="#p" x="404.5" y="452.5"/>
<use href="#p" x="401.5" y="445.5"/>
<use href="#p" x="404.5" y="448.5"/>
<use href="#p" x="400.5" y="450.5"/>
<use href="#x" x="389.5" y="345.5"/>
<use href="#x" x="389.5" y="361.5"/>
<use href="#x" x="308.5" y="441.5"/>
<use href="#x" x="309.5" y="444.5"/>
<use href="#x" x="308.5" y="445.5"/>
<use href="#x" x="305.5" y="438.5"/>
<use href="#x" x="310.5" y="444.5"/>
<use href="#x" x="314.5" y="441.5"/>
<use href="#x" x="312.5" y="445.5"/>
<use href="#x" x="318.5" y="451.5"/>
<use href="#x" x="313.5" y="447.5"/>
<use href="#x" x="316.5" y="449.5"/>
<use href="#x" x="316.5" y="437.5"/>
<use href="#x" x="327.5" y="442.5"/>
<use href="#x" x="325.5" y="439.5"/>
<use href="#x" x="325.5" y="442.5"/>
<use href="#x" x="320.5" y="439.5"/>
<use href="#x" x="322.5" y="445.5"/>
<use href="#x" x="327.5" y="439.5"/>
<use href="#x" x="333.5" y="449.5"/>
<use href="#x" x="337.5" y="441.5"/>
<use href="#x" x="332.5" y="453.5"/>
<use href="#x" x="336.5" y="442.5"/>
<use href="#x" x="335.5" y="445.5"/>
<use href="#x" x="331.5" y="446.5"/>
<use href="#x" x="335.5" y="450.5"/>
<use href="#x" x="342.5" y="456.5"/>
<use href="#x" x="343.5" y="451.5"/>
<use href="#x" x="343.5" y="447.5"/>
<use href="#x" x="346.5" y="452.5"/>
<use href="#x" x="350.5" y="446.5"/>
<use href="#x" x="353.5" y="448.5"/>
<use href="#x" x="359.5" y="445.5"/>
<use href="#x" x="352.5" y="447.5"/>
<use href="#x" x="353.5" y="447.5"/>
<use href="#x" x="361.5" y="453.5"/>
<use href="#x" x="366.5" y="453.5"/>
<use href="#x" x="364.5" y="443.5"/>
<use href="#x" x="367.5" y="454.5"/>
<use href="#x" x="368.5" y="452.5"/>
<use href="#x" x="372.5" y="452.5"/>
<use href="#x" x="370.5" y="445.5"/>
<use href="#x" x="373.5" y="454.5"/>
<use href="#x" x="370.5" y="445.5"/>
<use href="#x" x="376.5" y="441.5"/>
<use href="#x" x="373.5" y="453.5"/>
<use href="#x" x="374.5" y="453.5"/>
<use href="#x" x="372.5" y="453.5"/>
<use href="#x" x="386.5" y="455.5"/>
<use href="#x" x="380.5" y="446.5"/>
<use href="#x" x="383.5" y="457.5"/>
<use href="#x" x="380.5" y="448.5"/>
<use href="#x" x="389.5" y="443.5"/>
<use href="#x" x="389.5" y="443.5"/>
<use href="#x" x="385.5" y="449.5"/>
<use href="#x" x="386.5" y="446.5"/>
<use href="#x" x="384.5" y="456.5"/>
<use href="#x" x="398.5" y="444.5"/>
<use href="#x" x="391.5" y="446.5"/>
<use href="#x" x="395.5" y="447.5"/>
<use href="#x" x="394.5" y="443.5"/>
<use href="#x" x="393.5" y="443.5"/>
<use href="#x" x="391.5" y="453.5"/>
<use href="#x" x="395.5" y="450.5"/>
<use href="#x" x="390.5" y="455.5"/>
<use href="#x" x="390.5" y="454.5"/>
<use href="#x" x="394.5" y="456.5"/>
<use href="#x" x="390.5" y="448.5"/>
<use href="#x" x="404.5" y="452.5"/>
<use href="#x" x="401.5" y="445.5"/>
<use href="#x" x="404.5" y="448.5"/>
<use href="#x" x="400.5" y="450.5"/>
<circle cx="321.7" cy="455.5" r="4.6" fill="#000"/>
<circle cx="323.5" cy="456.3" r="4.6" fill="#000"/>
<circle cx="325.5" cy="454.8" r="4.6" fill="#000"/>
<circle cx="327" cy="456" r="4.6" fill="#000"/>
<circle cx="328.7" cy="455.8" r="4.6" fill="#000"/>
<circle cx="338.3" cy="456.2" r="4.6" fill="#000"/>
<circle cx="340" cy="456.5" r="4.6" fill="#000"/>
<circle cx="341.8" cy="455.6" r="4.6" fill="#000"/>
<circle cx="343.3" cy="456.6" r="4.6" fill="#000"/>
<circle cx="344.8" cy="456" r="4.6" fill="#000"/>
<circle cx="354" cy="456" r="4.6" fill="#000"/>
<circle cx="356" cy="455.5" r="4.6" fill="#000"/>
<circle cx="358" cy="453.5" r="4.6" fill="#000"/>
<circle cx="357.5" cy="456.5" r="4.6" fill="#000"/>
<circle cx="360" cy="455.2" r="4.6" fill="#000"/>
<circle cx="361.8" cy="456" r="4.6" fill="#000"/>
<circle cx="370.9" cy="455.5" r="4.6" fill="#000"/>
<line x1="100.6" y1="455.4" x2="720.5" y2="455.4" stroke="#0000ff" stroke-width="1.4" stroke-dasharray="8.33 8.33"/>
</g>
<rect x="100.4" y="60.5" width="620.2" height="479.8" fill="none" stroke="#000" stroke-width="1.4"/>
<path d="M100.5 540V534.1M183.5 540V534.1M265.5 540V534.1M348.5 540V534.1M431.5 540V534.1M513.5 540V534.1M596.5 540V534.1M679.5 540V534.1M133.5 60V65.9M215.5 60V65.9M298.5 60V65.9M381.5 60V65.9M463.5 60V65.9M546.5 60V65.9M628.5 60V65.9M711.5 60V65.9M100 540.5H105.9M720 540.5H714.1M100 420.5H105.9M720 420.5H714.1M100 300.5H105.9M720 300.5H714.1M100 180.5H105.9M720 180.5H714.1M100 60.5H105.9M720 60.5H714.1" stroke="#000" stroke-width="0.8" fill="none"/>
<g font-family="Liberation Sans, sans-serif" fill="#000"><text x="100.50" y="559.70" text-anchor="middle" font-size="17.50" textLength="33.42" lengthAdjust="spacingAndGlyphs">−20</text><text x="183.17" y="559.70" text-anchor="middle" font-size="17.50" textLength="33.42" lengthAdjust="spacingAndGlyphs">−18</text><text x="265.83" y="559.70" text-anchor="middle" font-size="17.50" textLength="33.42" lengthAdjust="spacingAndGlyphs">−16</text><text x="348.50" y="559.70" text-anchor="middle" font-size="17.50" textLength="33.42" lengthAdjust="spacingAndGlyphs">−14</text><text x="431.17" y="559.70" text-anchor="middle" font-size="17.50" textLength="33.42" lengthAdjust="spacingAndGlyphs">−12</text><text x="513.83" y="559.70" text-anchor="middle" font-size="17.50" textLength="33.42" lengthAdjust="spacingAndGlyphs">−10</text><text x="596.50" y="559.70" text-anchor="middle" font-size="17.50" textLength="23.34" lengthAdjust="spacingAndGlyphs">−8</text><text x="679.17" y="559.70" text-anchor="middle" font-size="17.50" textLength="23.34" lengthAdjust="spacingAndGlyphs">−6</text><text x="133.00" y="50.00" text-anchor="middle" font-size="17.50" textLength="19.52" lengthAdjust="spacingAndGlyphs">14</text><text x="215.57" y="50.00" text-anchor="middle" font-size="17.50" textLength="19.52" lengthAdjust="spacingAndGlyphs">16</text><text x="298.14" y="50.00" text-anchor="middle" font-size="17.50" textLength="19.52" lengthAdjust="spacingAndGlyphs">18</text><text x="380.72" y="50.00" text-anchor="middle" font-size="17.50" textLength="19.52" lengthAdjust="spacingAndGlyphs">20</text><text x="463.29" y="50.00" text-anchor="middle" font-size="17.50" textLength="19.52" lengthAdjust="spacingAndGlyphs">22</text><text x="545.86" y="50.00" text-anchor="middle" font-size="17.50" textLength="19.52" lengthAdjust="spacingAndGlyphs">24</text><text x="628.43" y="50.00" text-anchor="middle" font-size="17.50" textLength="19.52" lengthAdjust="spacingAndGlyphs">26</text><text x="711.00" y="50.00" text-anchor="middle" font-size="17.50" textLength="19.52" lengthAdjust="spacingAndGlyphs">28</text><text x="95.40" y="544.80" text-anchor="end" font-size="17.50" textLength="9.76" lengthAdjust="spacingAndGlyphs">0</text><text x="95.40" y="424.80" text-anchor="end" font-size="17.50" textLength="9.76" lengthAdjust="spacingAndGlyphs">5</text><text x="95.40" y="304.80" text-anchor="end" font-size="17.50" textLength="19.52" lengthAdjust="spacingAndGlyphs">10</text><text x="95.40" y="184.80" text-anchor="end" font-size="17.50" textLength="19.52" lengthAdjust="spacingAndGlyphs">15</text><text x="95.40" y="64.80" text-anchor="end" font-size="17.50" textLength="19.52" lengthAdjust="spacingAndGlyphs">20</text></g>
<g font-family="Liberation Sans, sans-serif" fill="#000">
<text x="410.50" y="29.10" text-anchor="middle" font-size="21.00" textLength="217.15" lengthAdjust="spacingAndGlyphs">FWHM vs magnitudes</text>
<text x="410.50" y="584.00" text-anchor="middle" font-size="17.50" textLength="293.18" lengthAdjust="spacingAndGlyphs">magnitude (bottom:isnt / top:calib)</text>
<g transform="translate(63.3,300) rotate(-90)"><text x="0.00" y="0.00" text-anchor="middle" font-size="17.50" textLength="96.37" lengthAdjust="spacingAndGlyphs">FWHM (pix)</text></g>
</g>
<rect x="398.5" y="70.5" width="312" height="122" fill="#fff" stroke="#000" stroke-width="1.4"/>
<g font-family="Liberation Sans, sans-serif" fill="#000">
<text x="462.00" y="93.30" text-anchor="start" font-size="21.00" textLength="102.44" lengthAdjust="spacingAndGlyphs">all sample</text>
<text x="462.00" y="122.50" text-anchor="start" font-size="21.00" textLength="240.93" lengthAdjust="spacingAndGlyphs">sample for rough FWHM</text>
<text x="462.00" y="151.60" text-anchor="start" font-size="21.00" textLength="229.63" lengthAdjust="spacingAndGlyphs">coarse PSF-like sample</text>
<text x="462.00" y="180.70" text-anchor="start" font-size="21.00" textLength="160.39" lengthAdjust="spacingAndGlyphs">tentative FWHM</text>
</g>
<use href="#p" x="412.5" y="86.5"/>
<use href="#x" x="412.5" y="115.5"/>
<circle cx="412.5" cy="144.4" r="4.6" fill="#000"/>
<use href="#p" x="440.5" y="86.5"/>
<use href="#x" x="440.5" y="115.5"/>
<circle cx="440.5" cy="144.4" r="4.6" fill="#000"/>
<line x1="412.3" y1="173.5" x2="440.4" y2="173.5" stroke="#0000ff" stroke-width="1.4" stroke-dasharray="8.5 8.1"/>
</svg></body></html>
